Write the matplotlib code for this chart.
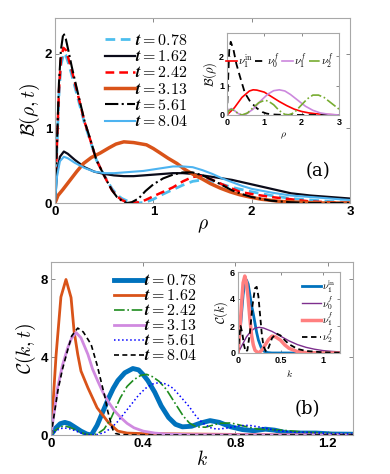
import matplotlib
matplotlib.use('Agg')
import matplotlib.pyplot as plt

plt.rcParams['font.family'] = ['Liberation Sans', 'DejaVu Sans']
plt.rcParams['mathtext.fontset'] = 'cm'

# ---------------- panel (a): B(rho, t) ----------------
t_labels = ['0.78', '1.62', '2.42', '3.13', '5.61', '8.04']

rho_078 = [0, 0.02, 0.04, 0.06, 0.09, 0.11, 0.14, 0.17, 0.21, 0.25, 0.30, 0.36, 0.42, 0.48, 0.53, 0.58, 0.63, 0.68,
           0.73, 0.79, 0.85, 0.92, 1.0, 1.1, 1.2, 1.3, 1.4, 1.5, 1.6, 1.7, 1.8, 1.9, 2.0, 2.2, 2.4, 2.6, 2.8, 3.0]
B_078 = [0, 0.75, 1.45, 1.85, 2.01, 1.98, 1.86, 1.72, 1.52, 1.32, 1.07, 0.83, 0.58, 0.42, 0.30, 0.19, 0.11, 0.06,
         0.03, 0.01, 0.0, 0.01, 0.05, 0.12, 0.18, 0.24, 0.29, 0.31, 0.29, 0.25, 0.21, 0.18, 0.15, 0.10, 0.06, 0.04, 0.02, 0.01]

rho_162 = [0, 0.02, 0.05, 0.09, 0.13, 0.2, 0.3, 0.4, 0.5, 0.6, 0.7, 0.8, 0.9, 1.0, 1.1, 1.2, 1.3, 1.4, 1.5, 1.6,
           1.7, 1.8, 1.9, 2.0, 2.2, 2.4, 2.6, 2.8, 3.0]
B_162 = [0, 0.40, 0.62, 0.69, 0.66, 0.58, 0.48, 0.42, 0.39, 0.37, 0.36, 0.36, 0.37, 0.38, 0.39, 0.40, 0.40, 0.39,
         0.37, 0.35, 0.33, 0.31, 0.28, 0.25, 0.19, 0.13, 0.10, 0.08, 0.06]

rho_242 = [0, 0.02, 0.04, 0.06, 0.085, 0.11, 0.14, 0.17, 0.21, 0.25, 0.30, 0.36, 0.42, 0.48, 0.53, 0.58, 0.63, 0.68,
           0.73, 0.78, 0.85, 0.92, 1.0, 1.1, 1.2, 1.3, 1.4, 1.5, 1.6, 1.7, 1.88, 2.0, 2.2, 2.4, 2.6, 2.8, 3.0]
B_242 = [0, 0.78, 1.5, 1.92, 2.08, 2.05, 1.92, 1.78, 1.57, 1.36, 1.09, 0.84, 0.58, 0.42, 0.29, 0.17, 0.09, 0.04,
         0.01, 0.0, 0.01, 0.04, 0.09, 0.15, 0.21, 0.29, 0.35, 0.36, 0.31, 0.25, 0.15, 0.12, 0.08, 0.05, 0.02, 0.01, 0.0]

rho_313 = [0, 0.03, 0.08, 0.15, 0.22, 0.29, 0.37, 0.46, 0.55, 0.62, 0.70, 0.80, 0.93, 1.0, 1.07, 1.15, 1.24, 1.32,
           1.41, 1.5, 1.58, 1.68, 1.78, 1.88, 1.98, 2.1, 2.3, 2.5, 2.7, 3.0]
B_313 = [0, 0.10, 0.18, 0.30, 0.42, 0.53, 0.61, 0.67, 0.74, 0.79, 0.82, 0.81, 0.78, 0.73, 0.67, 0.60, 0.53, 0.45,
         0.38, 0.32, 0.26, 0.20, 0.15, 0.11, 0.08, 0.05, 0.02, 0.01, 0.0, 0.0]

rho_561 = [0, 0.02, 0.04, 0.06, 0.085, 0.11, 0.14, 0.17, 0.21, 0.25, 0.30, 0.36, 0.42, 0.48, 0.53, 0.58, 0.63, 0.68,
           0.73, 0.78, 0.85, 0.92, 1.0, 1.1, 1.2, 1.3, 1.4, 1.5, 1.6, 1.7, 1.8, 1.9, 2.0, 2.2, 2.4, 2.6, 3.0]
B_561 = [0, 0.8, 1.6, 2.05, 2.28, 2.2, 2.02, 1.83, 1.6, 1.38, 1.1, 0.85, 0.58, 0.42, 0.29, 0.17, 0.08, 0.03,
         0.0, 0.01, 0.06, 0.16, 0.25, 0.33, 0.38, 0.41, 0.41, 0.37, 0.31, 0.24, 0.17, 0.12, 0.08, 0.03, 0.01, 0.0, 0.0]

rho_804 = [0, 0.02, 0.05, 0.09, 0.13, 0.2, 0.3, 0.4, 0.5, 0.6, 0.7, 0.8, 0.9, 1.0, 1.1, 1.2, 1.3, 1.4, 1.5, 1.6,
           1.7, 1.8, 1.9, 2.0, 2.2, 2.4, 2.6, 2.8, 3.0]
B_804 = [0, 0.35, 0.56, 0.62, 0.60, 0.54, 0.47, 0.42, 0.40, 0.40, 0.41, 0.42, 0.43, 0.45, 0.47, 0.49, 0.49, 0.48,
         0.44, 0.39, 0.33, 0.28, 0.23, 0.19, 0.14, 0.10, 0.08, 0.06, 0.04]

# inset (a): eigenmode distributions
rho_nu1in = [0, 0.2, 0.4, 0.6, 0.7, 0.8, 1.0, 1.2, 1.4, 1.6, 1.8, 2.0, 2.2, 2.4, 2.6, 3.0]
B_nu1in = [0, 0.25, 0.6, 0.82, 0.86, 0.85, 0.78, 0.62, 0.46, 0.32, 0.20, 0.12, 0.07, 0.04, 0.02, 0.0]
rho_nu0f = [0, 0.03, 0.06, 0.1, 0.17, 0.25, 0.35, 0.48, 0.62, 0.8, 0.95, 1.06, 1.2, 1.4, 2.0, 3.0]
B_nu0f = [0, 1.2, 2.2, 2.5, 2.25, 1.75, 1.3, 0.75, 0.46, 0.23, 0.1, 0.05, 0.02, 0.01, 0.0, 0.0]
rho_nu1f = [0, 0.05, 0.12, 0.2, 0.3, 0.4, 0.5, 0.7, 0.9, 1.1, 1.25, 1.4, 1.55, 1.7, 1.9, 2.1, 2.3, 2.5, 2.7, 3.0]
B_nu1f = [0, 0.18, 0.22, 0.15, 0.05, 0.0, 0.02, 0.2, 0.48, 0.72, 0.83, 0.86, 0.82, 0.70, 0.50, 0.30, 0.16, 0.07, 0.03, 0.0]
rho_nu2f = [0, 0.05, 0.12, 0.2, 0.3, 0.4, 0.55, 0.7, 0.85, 1.0, 1.1, 1.25, 1.4, 1.55, 1.65, 1.8, 2.0, 2.15, 2.3,
            2.45, 2.6, 2.8, 3.0]
B_nu2f = [0, 0.15, 0.2, 0.15, 0.05, 0.0, 0.07, 0.25, 0.42, 0.5, 0.48, 0.35, 0.15, 0.02, 0.0, 0.08, 0.35, 0.55, 0.68,
          0.68, 0.6, 0.4, 0.2]

# ---------------- panel (b): C(k, t) ----------------
k_078 = [0, 0.02, 0.04, 0.06, 0.08, 0.1, 0.13, 0.155, 0.175, 0.2, 0.225, 0.25, 0.27, 0.29, 0.32, 0.355, 0.38, 0.4,
         0.42, 0.45, 0.478, 0.51, 0.54, 0.57, 0.61, 0.65, 0.69, 0.73, 0.78, 0.83, 0.88, 0.93, 0.97, 1.02, 1.08,
         1.15, 1.22, 1.31]
C_078 = [0, 0.35, 0.58, 0.65, 0.58, 0.43, 0.2, 0.05, 0.0, 0.5, 1.2, 1.9, 2.4, 2.8, 3.2, 3.42, 3.35, 3.1, 2.8, 2.2,
         1.5, 0.9, 0.55, 0.42, 0.45, 0.62, 0.74, 0.65, 0.42, 0.28, 0.22, 0.3, 0.25, 0.12, 0.1, 0.1, 0.05, 0.04]

k_162 = [0, 0.022, 0.043, 0.065, 0.087, 0.1, 0.116, 0.13, 0.16, 0.2, 0.25, 0.29, 0.33, 0.4, 0.6, 0.8, 1.0, 1.31]
C_162 = [0, 4.1, 7.1, 8.0, 7.07, 5.35, 4.15, 3.29, 2.43, 1.4, 0.63, 0.2, 0.1, 0.07, 0.05, 0.03, 0.01, 0.0]

k_242 = [0, 0.02, 0.04, 0.06, 0.08, 0.1, 0.13, 0.155, 0.175, 0.2, 0.23, 0.26, 0.3, 0.33, 0.36, 0.39, 0.415, 0.44,
         0.47, 0.5, 0.54, 0.574, 0.6, 0.63, 0.67, 0.73, 0.78, 0.84, 0.9, 0.95, 1.0, 1.05, 1.1, 1.2, 1.31]
C_242 = [0, 0.25, 0.42, 0.46, 0.4, 0.3, 0.13, 0.03, 0.0, 0.05, 0.3, 0.85, 1.9, 2.5, 2.85, 3.07, 3.12, 3.0, 2.75,
         2.35, 1.6, 0.97, 0.62, 0.42, 0.4, 0.6, 0.62, 0.45, 0.3, 0.28, 0.25, 0.2, 0.15, 0.08, 0.05]

k_313 = [0, 0.029, 0.05, 0.073, 0.09, 0.109, 0.13, 0.16, 0.18, 0.203, 0.225, 0.247, 0.275, 0.304, 0.33, 0.36, 0.4,
         0.45, 0.5, 0.6, 1.31]
C_313 = [0, 2.45, 3.6, 4.5, 5.0, 5.27, 5.0, 4.15, 3.4, 2.77, 2.2, 1.74, 1.25, 0.88, 0.6, 0.37, 0.2, 0.1, 0.05, 0.02, 0.0]

k_561 = [0, 0.02, 0.04, 0.06, 0.08, 0.1, 0.13, 0.155, 0.175, 0.2, 0.23, 0.26, 0.29, 0.32, 0.35, 0.38, 0.41, 0.44,
         0.47, 0.5, 0.53, 0.56, 0.6, 0.63, 0.66, 0.69, 0.72, 0.76, 0.82, 0.86, 0.9, 0.95, 1.0, 1.05, 1.1, 1.2, 1.31]
C_561 = [0, 0.2, 0.33, 0.36, 0.32, 0.24, 0.1, 0.02, 0.0, 0.02, 0.12, 0.35, 0.7, 1.15, 1.6, 2.05, 2.4, 2.62, 2.7,
         2.62, 2.4, 2.0, 1.45, 0.95, 0.6, 0.38, 0.3, 0.35, 0.48, 0.5, 0.42, 0.3, 0.2, 0.15, 0.14, 0.08, 0.05]

k_804 = [0, 0.03, 0.05, 0.073, 0.09, 0.116, 0.14, 0.174, 0.2, 0.217, 0.235, 0.246, 0.258, 0.268, 0.28, 0.3, 0.35, 1.31]
C_804 = [0, 2.3, 3.4, 4.4, 5.1, 5.5, 5.3, 4.66, 3.6, 2.77, 1.9, 1.23, 0.7, 0.28, 0.08, 0.02, 0.0, 0.0]

# inset (b)
k_nu1in = [0, 0.02, 0.04, 0.06, 0.08, 0.1, 0.12, 0.14, 0.16, 0.18, 0.2, 0.22, 0.24, 0.27, 0.3, 0.35, 0.4, 1.2]
C_nu1in = [0, 1.2, 2.8, 4.3, 5.2, 5.4, 5.1, 4.3, 3.5, 2.9, 2.2, 1.5, 0.96, 0.45, 0.15, 0.03, 0.0, 0.0]
k_nu0f = [0, 0.05, 0.1, 0.15, 0.2, 0.25, 0.3, 0.4, 0.5, 0.6, 0.7, 0.8, 0.9, 1.0, 1.1, 1.2]
C_nu0f = [0, 0.6, 1.2, 1.6, 1.85, 1.9, 1.85, 1.6, 1.25, 0.9, 0.62, 0.42, 0.28, 0.18, 0.12, 0.08]
k_nu1f = [0, 0.02, 0.04, 0.06, 0.08, 0.1, 0.12, 0.14, 0.16, 0.18, 0.2, 0.24, 0.28, 0.32, 0.36, 0.4, 0.44, 0.5,
          0.55, 0.6, 0.7, 0.8, 1.0, 1.2]
C_nu1f = [0, 1.5, 3.5, 5.2, 5.7, 5.2, 4.0, 2.5, 1.3, 0.6, 0.2, 0.0, 0.2, 0.6, 1.0, 1.25, 1.2, 0.95, 0.6, 0.35,
          0.1, 0.03, 0.0, 0.0]
k_nu2f = [0, 0.015, 0.03, 0.05, 0.07, 0.09, 0.11, 0.14, 0.17, 0.2, 0.22, 0.24, 0.26, 0.28, 0.3, 0.33, 0.36, 0.4,
          0.45, 0.5, 0.55, 0.6, 0.7, 0.8, 1.0, 1.2]
C_nu2f = [0, 1.2, 2.0, 1.5, 0.6, 0.1, 0.2, 1.5, 3.5, 4.8, 4.9, 4.2, 2.8, 1.4, 0.5, 0.1, 0.4, 1.1, 1.45, 1.3,
          0.95, 0.65, 0.3, 0.15, 0.05, 0.02]

W, H = 390, 474
fig = plt.figure(figsize=(3.9, 4.74), dpi=100)

def style(ax, fs=9.5, sz=3):
    for s in ax.spines.values():
        s.set_color('#a8a8a8')
        s.set_linewidth(0.8)
    ax.tick_params(direction='in', top=True, right=True, length=sz, width=0.7, color='#888888',
                   labelsize=fs, pad=2)
    for lb in ax.get_xticklabels() + ax.get_yticklabels():
        lb.set_fontweight('bold')

def leglab(t):
    return r'$\boldsymbol{t = ' + t + '}$'

# ---- (a) main
ax1 = fig.add_axes([55 / W, 1 - 203 / H, 295 / W, 185 / H])
ax1.plot(rho_078, B_078, color='#4DBEEE', ls=(0, (3.5, 2)), lw=2, label=leglab(t_labels[0]))
ax1.plot(rho_162, B_162, color='#0b0b1a', lw=1.6, label=leglab(t_labels[1]))
ax1.plot(rho_242, B_242, color='#FF0000', ls=(0, (3.5, 2)), lw=1.8, label=leglab(t_labels[2]))
ax1.plot(rho_313, B_313, color='#D95319', lw=2.5, label=leglab(t_labels[3]))
ax1.plot(rho_561, B_561, color='black', ls='-.', lw=1.5, label=leglab(t_labels[4]))
ax1.plot(rho_804, B_804, color='#4DB3F0', lw=1.5, label=leglab(t_labels[5]))
ax1.set_xlim(0, 3)
ax1.set_ylim(0, 2.48)
ax1.set_xticks([0, 1, 2, 3])
ax1.set_yticks([0, 1, 2])
style(ax1)
ax1.set_xlabel(r'$\rho$', fontsize=14, labelpad=0)
ax1.set_ylabel(r'$\mathcal{B}(\rho,t)$', fontsize=14, labelpad=2)
ax1.legend(loc='upper left', bbox_to_anchor=(0.13, 0.98), frameon=False, fontsize=11.5,
           handlelength=1.9, handletextpad=0.0, labelspacing=0.08, borderpad=0.2)
ax1.text(0.89, 0.17, '(a)', transform=ax1.transAxes, fontsize=13, ha='center', va='center',
         family='DejaVu Serif')

# ---- (a) inset
ia = fig.add_axes([227 / W, 1 - 115 / H, 112 / W, 82 / H])
ia.plot(rho_nu1in, B_nu1in, color='#FF0000', lw=1.2, label=r'$\nu_1^{\rm in}$')
ia.plot(rho_nu0f, B_nu0f, color='black', ls=(0, (4, 2.5)), lw=1.3, label=r'$\nu_0^f$')
ia.plot(rho_nu1f, B_nu1f, color='#CC88DD', lw=1.2, label=r'$\nu_1^f$')
ia.plot(rho_nu2f, B_nu2f, color='#77AC30', ls='-.', lw=1.2, label=r'$\nu_2^f$')
ia.set_xlim(0, 3)
ia.set_ylim(0, 2.8)
ia.set_xticks([0, 1, 2, 3])
ia.set_yticks([0, 1, 2])
style(ia, fs=6.5, sz=2)
ia.set_xlabel(r'$\rho$', fontsize=7, labelpad=3)
ia.set_ylabel(r'$\mathcal{B}(\rho)$', fontsize=9, labelpad=0)
ia.legend(loc='upper right', bbox_to_anchor=(1.01, 0.86), ncol=4, frameon=False, fontsize=8,
          handlelength=1.0, handletextpad=0.1, columnspacing=0.2, borderpad=0.1)

# ---- (b) main
ax2 = fig.add_axes([51 / W, 1 - 435 / H, 302 / W, 173 / H])
ax2.plot(k_078, C_078, color='#0072BD', lw=3.5, label=leglab(t_labels[0]))
ax2.plot(k_162, C_162, color='#D95319', lw=2, label=leglab(t_labels[1]))
ax2.plot(k_242, C_242, color='#1E8C1E', ls='-.', lw=1.2, label=leglab(t_labels[2]))
ax2.plot(k_313, C_313, color='#D08AE0', lw=2, label=leglab(t_labels[3]))
ax2.plot(k_561, C_561, color='#0000FF', ls=':', lw=1.1, label=leglab(t_labels[4]))
ax2.plot(k_804, C_804, color='black', ls=(0, (3, 2)), lw=1.2, label=leglab(t_labels[5]))
ax2.set_xlim(0, 1.31)
ax2.set_ylim(0, 8.9)
ax2.set_xticks([0, 0.4, 0.8, 1.2])
ax2.set_xticklabels(['0', '0.4', '0.8', '1.2'])
ax2.set_yticks([0, 4, 8])
style(ax2)
ax2.set_xlabel(r'$k$', fontsize=14, labelpad=0)
ax2.set_ylabel(r'$\mathcal{C}(k,t)$', fontsize=14, labelpad=2)
ax2.legend(loc='upper left', bbox_to_anchor=(0.17, 1.0), frameon=False, fontsize=11.5,
           handlelength=1.9, handletextpad=0.0, labelspacing=0.0, borderpad=0.2)
ax2.text(0.85, 0.15, '(b)', transform=ax2.transAxes, fontsize=13, ha='center', va='center',
         family='DejaVu Serif')

# ---- (b) inset
ib = fig.add_axes([238 / W, 1 - 353 / H, 102 / W, 81 / H])
ib.plot(k_nu1in, C_nu1in, color='#0072BD', lw=2, label=r'$\nu_1^{\rm in}$')
ib.plot(k_nu0f, C_nu0f, color='#7E2F8E', lw=1, label=r'$\nu_0^f$')
ib.plot(k_nu1f, C_nu1f, color='#FF7F7F', lw=2.5, label=r'$\nu_1^f$')
ib.plot(k_nu2f, C_nu2f, color='black', ls=(0, (3, 2)), lw=1.3, label=r'$\nu_2^f$')
ib.set_xlim(0, 1.2)
ib.set_ylim(0, 6)
ib.set_xticks([0, 0.5, 1])
ib.set_xticklabels(['0', '0.5', '1'])
ib.set_yticks([0, 2, 4, 6])
style(ib, fs=6.5, sz=2)
ib.set_xlabel(r'$k$', fontsize=7, labelpad=2)
ib.set_ylabel(r'$\mathcal{C}(k)$', fontsize=9, labelpad=0)
ib.legend(loc='upper right', bbox_to_anchor=(1.02, 1.0), frameon=False, fontsize=7.5,
          handlelength=1.8, handletextpad=0.1, labelspacing=-0.1, borderpad=0.1)

fig.savefig('out.png', dpi=100)
